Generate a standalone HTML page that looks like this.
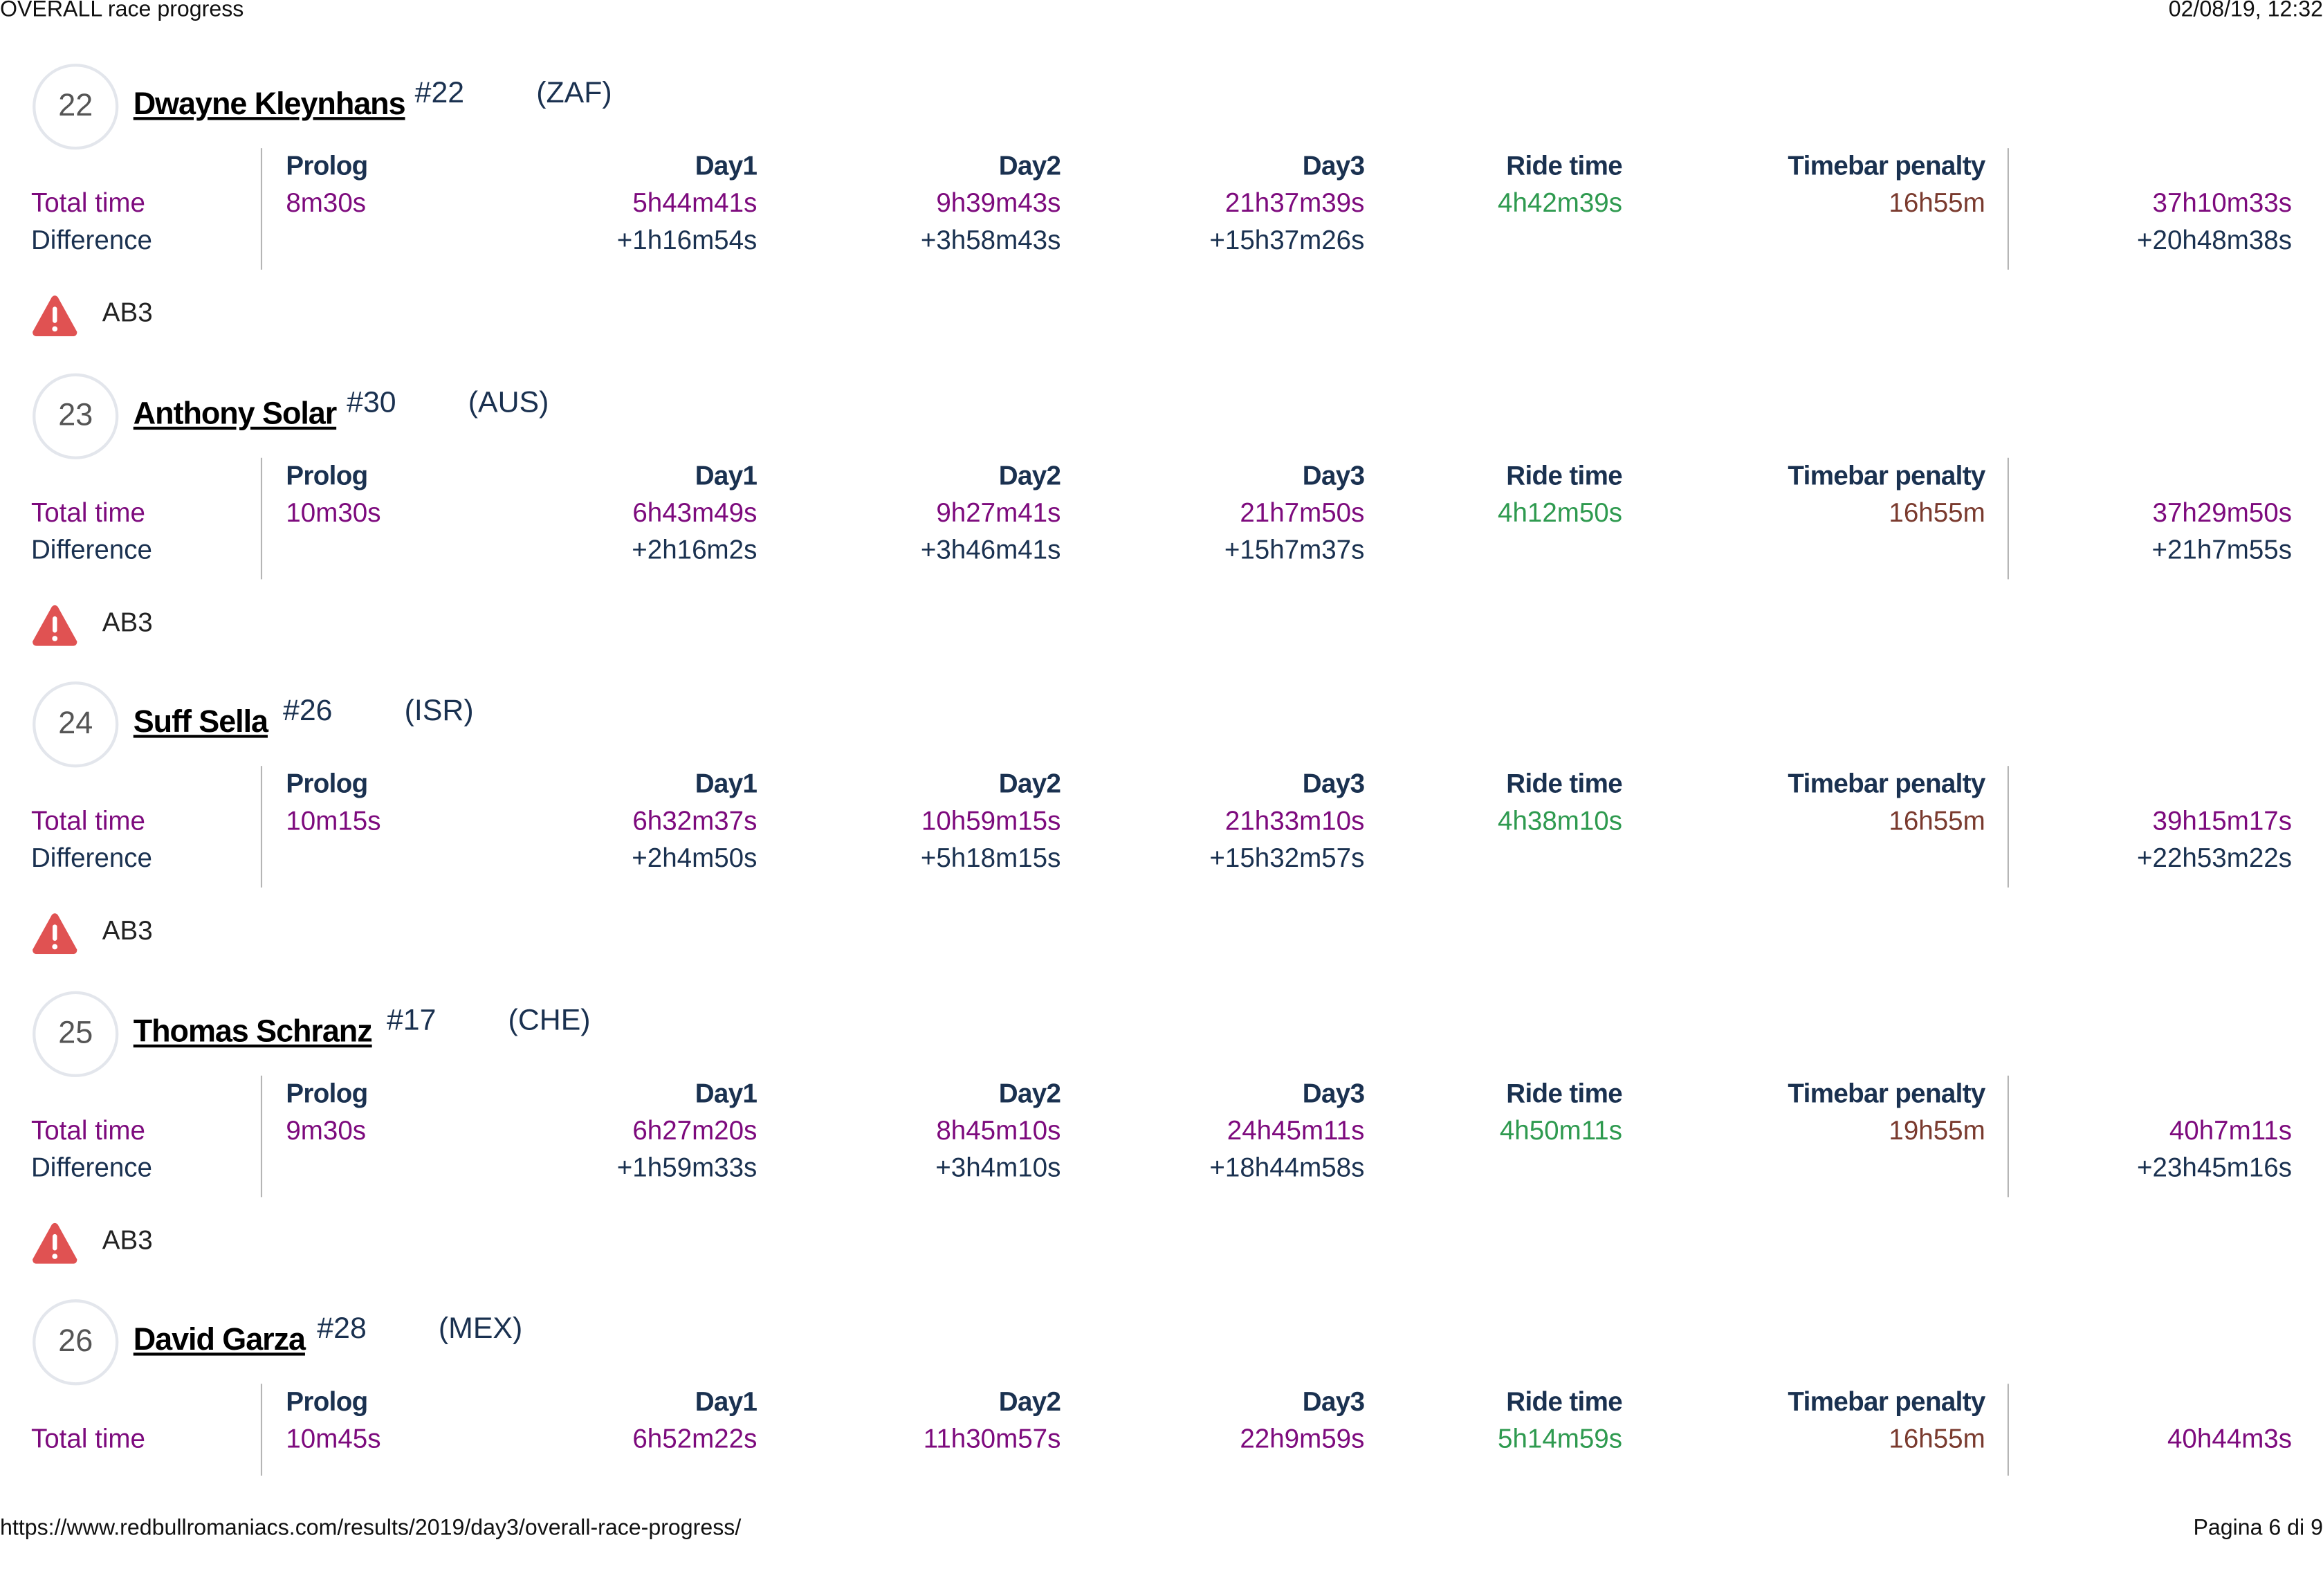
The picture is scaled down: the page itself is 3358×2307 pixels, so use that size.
<!DOCTYPE html>
<html><head><meta charset="utf-8">
<style>
html,body{margin:0;padding:0;background:#fff;}
body{width:3358px;height:2233px;overflow:hidden;position:relative;font-family:"Liberation Sans",Arial,sans-serif;}
#w{position:absolute;left:0;top:0;width:1568px;height:1043px;transform:scale(2.14158);transform-origin:0 0;}
.a{position:absolute;white-space:nowrap;}
.blk{position:absolute;left:0;width:1568px;height:200px;}
.circ{position:absolute;left:22px;top:0;width:54px;height:54px;border:2px solid #e3e6ec;border-radius:50%;text-align:center;line-height:54px;font-size:21px;color:#555;}
.name{left:90px;top:16px;font-size:21px;line-height:24px;font-weight:bold;color:#000;text-decoration:underline;letter-spacing:-0.5px;}
.num{top:8px;font-size:20px;line-height:24px;color:#1a3150;}
.hd{top:58px;font-size:18px;line-height:22px;font-weight:bold;color:#1a3150;letter-spacing:-0.3px;}
.r1{top:83px;font-size:18px;line-height:22px;color:#7d0a7d;}
.r2{top:108px;font-size:18px;line-height:22px;color:#1a3150;}
.vl{position:absolute;top:57px;width:1px;height:82px;background:#b5b5b5;}
.g{color:#2e9a4f}.br{color:#7a3a2e}
.ab{left:69px;top:157px;font-size:18px;line-height:22px;color:#222;}
.ic{position:absolute;left:21px;top:156px;}
.ft{font-size:15px;line-height:18px;color:#111;}
</style></head><body><div id="w">
<div class="a ft" style="left:0;top:-2px;">OVERALL race progress</div>
<div class="a ft" style="right:0;top:-2px;">02/08/19, 12:32</div>

<!-- block 22 -->
<div class="blk" style="top:43px">
<div class="circ">22</div>
<div class="a name">Dwayne Kleynhans</div>
<div class="a num" style="left:280px">#22</div>
<div class="a num" style="left:362px">(ZAF)</div>
<div class="vl" style="left:176px"></div><div class="vl" style="left:1355px"></div>
<div class="a hd" style="left:193px">Prolog</div>
<div class="a hd" style="right:1057px">Day1</div>
<div class="a hd" style="right:852px">Day2</div>
<div class="a hd" style="right:647px">Day3</div>
<div class="a hd" style="right:473px">Ride time</div>
<div class="a hd" style="right:228px">Timebar penalty</div>
<div class="a r1" style="left:21px">Total time</div>
<div class="a r2" style="left:21px">Difference</div>
<div class="a r1" style="left:193px">8m30s</div>
<div class="a r1" style="right:1057px">5h44m41s</div>
<div class="a r1" style="right:852px">9h39m43s</div>
<div class="a r1" style="right:647px">21h37m39s</div>
<div class="a r1 g" style="right:473px">4h42m39s</div>
<div class="a r1 br" style="right:228px">16h55m</div>
<div class="a r1" style="right:21px">37h10m33s</div>
<div class="a r2" style="right:1057px">+1h16m54s</div>
<div class="a r2" style="right:852px">+3h58m43s</div>
<div class="a r2" style="right:647px">+15h37m26s</div>
<div class="a r2" style="right:21px">+20h48m38s</div>
<svg class="ic" width="32" height="28" viewBox="0 0 32 28"><path d="M14 1.5 Q16 -0.5 18 1.5 L31 25 Q31 28 28 28 L4 28 Q1 28 1 25 Z" fill="#e05252"/><rect x="14.5" y="8" width="3" height="11" rx="1.5" fill="#fff"/><circle cx="16" cy="23" r="1.8" fill="#fff"/></svg>
<div class="a ab">AB3</div>
</div>

<!-- block 23 -->
<div class="blk" style="top:251.6px">
<div class="circ">23</div>
<div class="a name">Anthony Solar</div>
<div class="a num" style="left:234px">#30</div>
<div class="a num" style="left:316px">(AUS)</div>
<div class="vl" style="left:176px"></div><div class="vl" style="left:1355px"></div>
<div class="a hd" style="left:193px">Prolog</div>
<div class="a hd" style="right:1057px">Day1</div>
<div class="a hd" style="right:852px">Day2</div>
<div class="a hd" style="right:647px">Day3</div>
<div class="a hd" style="right:473px">Ride time</div>
<div class="a hd" style="right:228px">Timebar penalty</div>
<div class="a r1" style="left:21px">Total time</div>
<div class="a r2" style="left:21px">Difference</div>
<div class="a r1" style="left:193px">10m30s</div>
<div class="a r1" style="right:1057px">6h43m49s</div>
<div class="a r1" style="right:852px">9h27m41s</div>
<div class="a r1" style="right:647px">21h7m50s</div>
<div class="a r1 g" style="right:473px">4h12m50s</div>
<div class="a r1 br" style="right:228px">16h55m</div>
<div class="a r1" style="right:21px">37h29m50s</div>
<div class="a r2" style="right:1057px">+2h16m2s</div>
<div class="a r2" style="right:852px">+3h46m41s</div>
<div class="a r2" style="right:647px">+15h7m37s</div>
<div class="a r2" style="right:21px">+21h7m55s</div>
<svg class="ic" width="32" height="28" viewBox="0 0 32 28"><path d="M14 1.5 Q16 -0.5 18 1.5 L31 25 Q31 28 28 28 L4 28 Q1 28 1 25 Z" fill="#e05252"/><rect x="14.5" y="8" width="3" height="11" rx="1.5" fill="#fff"/><circle cx="16" cy="23" r="1.8" fill="#fff"/></svg>
<div class="a ab">AB3</div>
</div>

<!-- block 24 -->
<div class="blk" style="top:460.2px">
<div class="circ">24</div>
<div class="a name">Suff Sella</div>
<div class="a num" style="left:191px">#26</div>
<div class="a num" style="left:273px">(ISR)</div>
<div class="vl" style="left:176px"></div><div class="vl" style="left:1355px"></div>
<div class="a hd" style="left:193px">Prolog</div>
<div class="a hd" style="right:1057px">Day1</div>
<div class="a hd" style="right:852px">Day2</div>
<div class="a hd" style="right:647px">Day3</div>
<div class="a hd" style="right:473px">Ride time</div>
<div class="a hd" style="right:228px">Timebar penalty</div>
<div class="a r1" style="left:21px">Total time</div>
<div class="a r2" style="left:21px">Difference</div>
<div class="a r1" style="left:193px">10m15s</div>
<div class="a r1" style="right:1057px">6h32m37s</div>
<div class="a r1" style="right:852px">10h59m15s</div>
<div class="a r1" style="right:647px">21h33m10s</div>
<div class="a r1 g" style="right:473px">4h38m10s</div>
<div class="a r1 br" style="right:228px">16h55m</div>
<div class="a r1" style="right:21px">39h15m17s</div>
<div class="a r2" style="right:1057px">+2h4m50s</div>
<div class="a r2" style="right:852px">+5h18m15s</div>
<div class="a r2" style="right:647px">+15h32m57s</div>
<div class="a r2" style="right:21px">+22h53m22s</div>
<svg class="ic" width="32" height="28" viewBox="0 0 32 28"><path d="M14 1.5 Q16 -0.5 18 1.5 L31 25 Q31 28 28 28 L4 28 Q1 28 1 25 Z" fill="#e05252"/><rect x="14.5" y="8" width="3" height="11" rx="1.5" fill="#fff"/><circle cx="16" cy="23" r="1.8" fill="#fff"/></svg>
<div class="a ab">AB3</div>
</div>

<!-- block 25 -->
<div class="blk" style="top:668.8px">
<div class="circ">25</div>
<div class="a name">Thomas Schranz</div>
<div class="a num" style="left:261px">#17</div>
<div class="a num" style="left:343px">(CHE)</div>
<div class="vl" style="left:176px"></div><div class="vl" style="left:1355px"></div>
<div class="a hd" style="left:193px">Prolog</div>
<div class="a hd" style="right:1057px">Day1</div>
<div class="a hd" style="right:852px">Day2</div>
<div class="a hd" style="right:647px">Day3</div>
<div class="a hd" style="right:473px">Ride time</div>
<div class="a hd" style="right:228px">Timebar penalty</div>
<div class="a r1" style="left:21px">Total time</div>
<div class="a r2" style="left:21px">Difference</div>
<div class="a r1" style="left:193px">9m30s</div>
<div class="a r1" style="right:1057px">6h27m20s</div>
<div class="a r1" style="right:852px">8h45m10s</div>
<div class="a r1" style="right:647px">24h45m11s</div>
<div class="a r1 g" style="right:473px">4h50m11s</div>
<div class="a r1 br" style="right:228px">19h55m</div>
<div class="a r1" style="right:21px">40h7m11s</div>
<div class="a r2" style="right:1057px">+1h59m33s</div>
<div class="a r2" style="right:852px">+3h4m10s</div>
<div class="a r2" style="right:647px">+18h44m58s</div>
<div class="a r2" style="right:21px">+23h45m16s</div>
<svg class="ic" width="32" height="28" viewBox="0 0 32 28"><path d="M14 1.5 Q16 -0.5 18 1.5 L31 25 Q31 28 28 28 L4 28 Q1 28 1 25 Z" fill="#e05252"/><rect x="14.5" y="8" width="3" height="11" rx="1.5" fill="#fff"/><circle cx="16" cy="23" r="1.8" fill="#fff"/></svg>
<div class="a ab">AB3</div>
</div>

<!-- block 26 -->
<div class="blk" style="top:877.4px">
<div class="circ">26</div>
<div class="a name">David Garza</div>
<div class="a num" style="left:214px">#28</div>
<div class="a num" style="left:296px">(MEX)</div>
<div class="vl" style="left:176px;height:62px"></div><div class="vl" style="left:1355px;height:62px"></div>
<div class="a hd" style="left:193px">Prolog</div>
<div class="a hd" style="right:1057px">Day1</div>
<div class="a hd" style="right:852px">Day2</div>
<div class="a hd" style="right:647px">Day3</div>
<div class="a hd" style="right:473px">Ride time</div>
<div class="a hd" style="right:228px">Timebar penalty</div>
<div class="a r1" style="left:21px">Total time</div>
<div class="a r1" style="left:193px">10m45s</div>
<div class="a r1" style="right:1057px">6h52m22s</div>
<div class="a r1" style="right:852px">11h30m57s</div>
<div class="a r1" style="right:647px">22h9m59s</div>
<div class="a r1 g" style="right:473px">5h14m59s</div>
<div class="a r1 br" style="right:228px">16h55m</div>
<div class="a r1" style="right:21px">40h44m3s</div>
</div>

<div class="a ft" style="left:0;top:1023px;">https://www.redbullromaniacs.com/results/2019/day3/overall-race-progress/</div>
<div class="a ft" style="right:0;top:1023px;">Pagina 6 di 9</div>
</div></body></html>
